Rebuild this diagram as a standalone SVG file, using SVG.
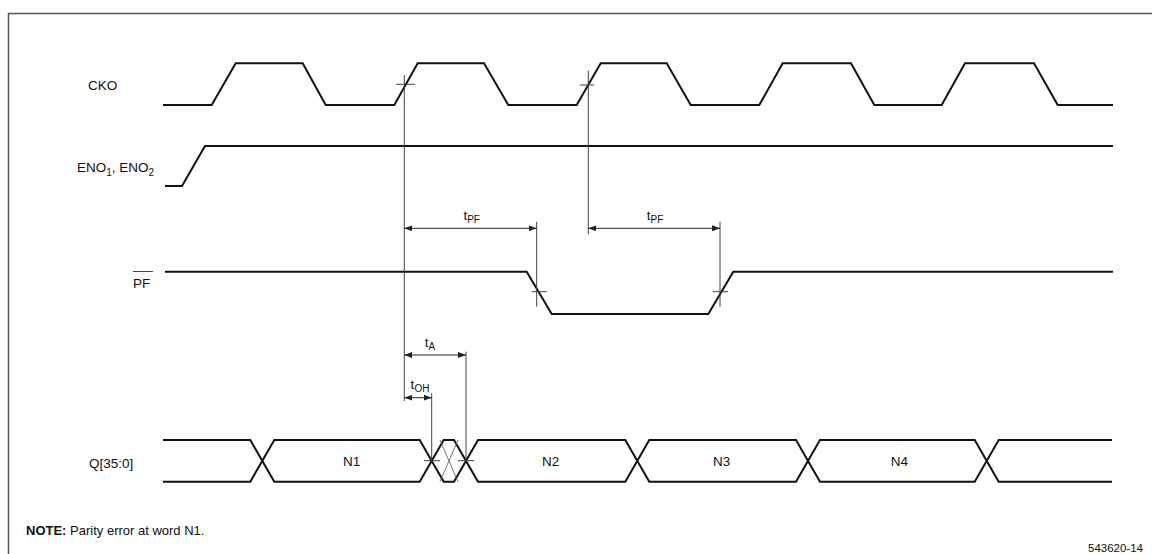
<svg xmlns="http://www.w3.org/2000/svg" width="1152" height="554" viewBox="0 0 1152 554">
<defs>
<marker id="ah" viewBox="0 0 8 6" refX="8" refY="3" markerWidth="8" markerHeight="6" markerUnits="userSpaceOnUse" orient="auto-start-reverse">
<path d="M0,0 L8,3 L0,6 Z" fill="#222"/>
</marker>
</defs>
<style>
.w{fill:none;stroke:#111;stroke-width:2;stroke-linejoin:miter}
.t{fill:none;stroke:#444;stroke-width:1}
.th{fill:none;stroke:#555;stroke-width:0.8}
.a{fill:none;stroke:#222;stroke-width:1;marker-start:url(#ah);marker-end:url(#ah)}
.lbl{font-family:"Liberation Sans",Arial,sans-serif;font-size:13.5px;fill:#111}
.sub{font-size:10px}
.frame{fill:none;stroke:#555;stroke-width:1.5}
</style>
<rect width="1152" height="554" fill="#fff"/>
<path class="frame" d="M8.5,554 L8.5,13.5 L1152,13.5"/>

<g id="cko">
<text class="lbl" x="88" y="90">CKO</text>
<path class="w" d="M163,105 L211.7,105 L235.7,63.3 L302.7,63.3 L325.7,105 L394.3,105 L417.7,63.3 L484,63.3 L508.3,105 L576.7,105 L600.7,63.3 L666.7,63.3 L690.7,105 L759.3,105 L782.7,63.3 L851,63.3 L874.3,105 L941.7,105 L965,63.3 L1034,63.3 L1057.7,105 L1113,105"/>
</g>

<g id="eno">
<text class="lbl" x="77" y="172">ENO<tspan class="sub" dy="4">1</tspan><tspan dy="-4">, ENO</tspan><tspan class="sub" dy="4">2</tspan></text>
<path class="w" d="M165,186 L182,186 L205,146 L1113,146"/>
</g>

<g id="pf">
<text class="lbl" x="133" y="288">PF</text>
<line class="t" x1="133" y1="271.5" x2="153" y2="271.5"/>
<path class="w" d="M165,271.7 L526.7,271.7 L551.7,314 L708.3,314 L733.3,271.7 L1113,271.7"/>
</g>

<g id="q">
<text class="lbl" x="89" y="468">Q[35:0]</text>
<path class="w" d="M163,440 L250.3,440 L274.3,481.7 L419.7,481.7 L443.7,440 L454,440 L478,481.7 L625.3,481.7 L649.3,440 L796,440 L820,481.7 L974.7,481.7 L998.7,440 L1112,440"/>
<path class="w" d="M163,481.7 L250.3,481.7 L274.3,440 L419.7,440 L443.7,481.7 L454,481.7 L478,440 L625.3,440 L649.3,481.7 L796,481.7 L820,440 L974.7,440 L998.7,481.7 L1112,481.7"/>
<path class="th" d="M440,440 L458,481.7 M440,481.7 L458,440"/>
<text class="lbl" x="351.7" y="465.5" text-anchor="middle">N1</text>
<text class="lbl" x="550.7" y="465.5" text-anchor="middle">N2</text>
<text class="lbl" x="721.7" y="465.5" text-anchor="middle">N3</text>
<text class="lbl" x="899.3" y="465.5" text-anchor="middle">N4</text>
</g>

<g id="connectors">
<line class="t" x1="404.3" y1="75" x2="404.3" y2="401"/>
<line class="t" x1="396" y1="84.3" x2="415" y2="84.3"/>
<line class="t" x1="588.3" y1="70.7" x2="588.3" y2="234.3"/>
<line class="t" x1="580" y1="85" x2="594.3" y2="85"/>
<line class="t" x1="536.7" y1="221.7" x2="536.7" y2="306.7"/>
<line class="t" x1="531.7" y1="291.7" x2="546.7" y2="291.7"/>
<line class="t" x1="720" y1="221.7" x2="720" y2="306.7"/>
<line class="t" x1="713" y1="291.7" x2="728" y2="291.7"/>
<line class="a" x1="404.3" y1="228.3" x2="536.7" y2="228.3"/>
<line class="a" x1="588.3" y1="228.3" x2="720" y2="228.3"/>
<line class="t" x1="431.7" y1="393.3" x2="431.7" y2="460.7"/>
<line class="t" x1="466" y1="351.7" x2="466" y2="460.7"/>
<line class="t" x1="424" y1="460.7" x2="440" y2="460.7"/>
<line class="t" x1="458" y1="460.7" x2="474" y2="460.7"/>
<line class="a" x1="404.3" y1="355" x2="466" y2="355"/>
<line class="a" x1="404.3" y1="397.7" x2="431.7" y2="397.7"/>
<text class="lbl" x="471.7" y="220" text-anchor="middle">t<tspan class="sub" dy="3">PF</tspan></text>
<text class="lbl" x="655" y="220" text-anchor="middle">t<tspan class="sub" dy="3">PF</tspan></text>
<text class="lbl" x="430" y="347" text-anchor="middle">t<tspan class="sub" dy="3">A</tspan></text>
<text class="lbl" x="420" y="389" text-anchor="middle">t<tspan class="sub" dy="3">OH</tspan></text>
</g>

<text class="lbl" x="26" y="535" style="font-size:13px"><tspan font-weight="bold">NOTE:</tspan>  Parity error at word N1.</text>
<text class="lbl" x="1088" y="552" style="font-size:11.5px">543620-14</text>
</svg>
